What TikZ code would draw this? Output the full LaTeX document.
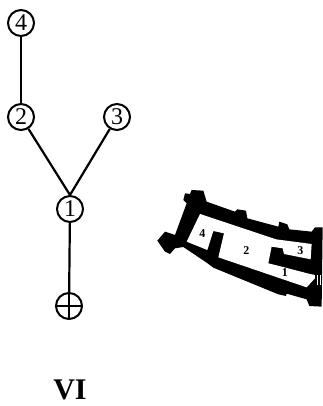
\documentclass[tikz,border=0pt]{standalone}
\usepackage{fontspec}
\setmainfont{Liberation Serif}
\tikzset{
  vertex/.style={circle,draw=black,line width=2pt,minimum size=26pt,inner sep=0pt,font=\fontsize{24}{24}\selectfont},
  edgeline/.style={line width=2.2pt,black},
  roomlabel/.style={inner sep=0pt,font=\bfseries\fontsize{12}{12}\selectfont}
}
\begin{document}
\begin{tikzpicture}[x=1pt,y=-1pt]
\useasboundingbox (0,0) rectangle (322,406);
\node[vertex] (n4) at (21,23) {4};
\node[vertex] (n2) at (21,117) {2};
\node[vertex] (n3) at (117,117) {3};
\node[vertex] (n1) at (70,209) {1};
\node[vertex] (nr) at (69,306) {};
\draw[line width=1.8pt] (nr.west) -- (nr.east);
\draw[line width=1.8pt] (nr.north) -- (nr.south);
\draw[edgeline,line width=2.8pt] (n4) -- (n2);
\draw[edgeline] (n2) -- (n1.north);
\draw[edgeline] (n3) -- (n1.north);
\draw[edgeline] (n1) -- (nr);
\node[inner sep=0pt,anchor=base,font=\bfseries\fontsize{30}{30}\selectfont] (vi) at (70,399.5) {VI};
\begin{scope}[shift={(150,170)},x=0.3333pt,y=-0.3333pt]
\fill[black] (105,70)--(120,72)--(125,60)--(160,62)--(170,95)--(255,125)--(262,118)--(288,122)--(292,145)--(385,170)--(388,155)--(412,163)--(418,178)--(485,185)--(495,172)--(518,172)--(515,410)--(478,408)--(470,388)--(410,371)--(408,378)--(385,373)--(190,293)--(170,278)--(100,231)--(75,235)--(60,252)--(45,245)--(22,212)--(45,185)--(75,195)--(110,100)--(100,90)--cycle;
\fill[white] (150,132)--(378,208)--(485,222)--(482,268)--(402,252)--(398,235)--(365,230)--(355,280)--(395,290)--(480,312)--(495,315)--(495,325)--(470,352)--(205,262)--(222,190)--(190,183)--(172,240)--(110,215)--cycle;
\fill[white] (500,315) rectangle (504,345);
\fill[white] (509,315) rectangle (513,345);
\node[roomlabel] (r4) at (157,192) {4};
\node[roomlabel] (r2) at (289,243) {2};
\node[roomlabel] (r3) at (451,241) {3};
\node[roomlabel] (r1) at (405,308) {1};
\end{scope}
\end{tikzpicture}
\end{document}
